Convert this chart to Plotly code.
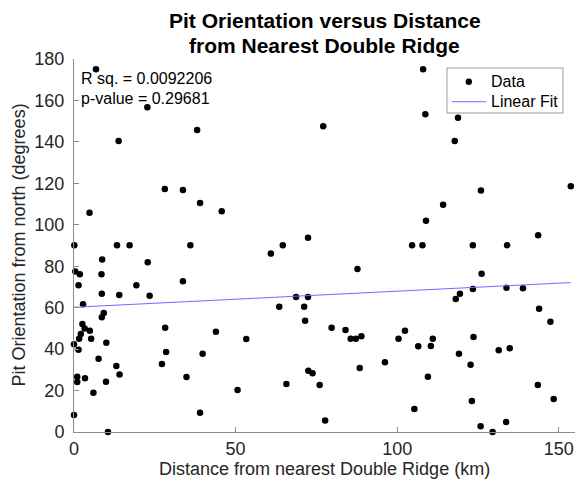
import numpy as np
import plotly.graph_objects as go

# Distance from nearest Double Ridge (km)
distance_km = [
    6.8, 22.7, 13.8, 28.1, 33.7, 4.8, 0.1, 13.3, 17.2, 36.0,
    8.7, 22.8, 0.4, 1.8, 8.5, 33.7, 1.4, 19.3, 8.6, 14.0,
    23.4, 2.8, 9.2, 8.6, 2.6, 3.3, 4.9, 2.1, 5.3, 1.6,
    28.2, 10.0, 0.0, 1.4, 28.5, 7.6, 27.2, 13.1, 14.1, 34.8,
    1.0, 3.4, 1.0, 9.9, 6.0, 0.0, 10.5, 38.1, 39.0, 45.7,
    60.9, 64.6, 72.4, 68.7, 72.4, 63.5, 71.2, 71.5, 43.9, 53.3,
    39.8, 72.5, 65.7, 50.6, 39.0, 108.0, 108.7, 77.1, 108.9, 104.6,
    107.8, 87.7, 79.7, 84.0, 85.6, 87.2, 88.9, 100.4, 102.4, 106.5,
    110.4, 111.0, 73.8, 88.4, 96.2, 76.0, 109.5, 105.3, 77.7, 118.8,
    117.8, 125.9, 114.2, 153.7, 123.4, 134.0, 143.6, 126.1, 119.4, 123.4,
    133.8, 138.9, 118.1, 143.9, 147.4, 123.6, 119.1, 131.4, 134.8, 122.7,
    143.5, 148.4, 123.1, 125.8, 133.7, 129.5,
]
# Pit orientation from north (degrees)
orientation_deg = [
    175.0, 156.7, 140.4, 117.3, 116.8, 105.8, 90.1, 90.1, 90.1, 90.1,
    83.3, 81.9, 77.4, 76.1, 76.1, 72.7, 70.8, 70.8, 66.7, 66.1,
    65.8, 61.6, 57.4, 55.4, 52.1, 50.0, 48.9, 47.3, 45.0, 45.0,
    50.3, 43.1, 42.3, 39.7, 38.6, 35.4, 32.8, 31.9, 27.7, 26.6,
    26.7, 25.9, 24.1, 24.3, 19.0, 8.2, 0.0, 145.7, 110.5, 106.5,
    86.1, 90.1, 93.8, 65.2, 65.2, 60.5, 60.5, 53.7, 48.4, 44.9,
    37.8, 29.6, 23.2, 20.3, 9.3, 175.0, 153.3, 147.5, 102.0, 90.1,
    90.1, 78.7, 50.3, 49.2, 45.0, 45.0, 46.2, 45.0, 48.9, 41.4,
    41.5, 45.0, 28.3, 30.9, 33.6, 22.7, 26.7, 11.1, 5.5, 151.7,
    140.4, 116.6, 109.7, 118.6, 90.1, 90.1, 94.9, 76.4, 66.7, 69.0,
    69.6, 69.4, 64.2, 59.5, 53.2, 45.9, 37.8, 39.4, 40.4, 32.5,
    22.7, 15.9, 15.0, 2.8, 4.8, 0.0,
]

# Linear fit coefficients
fit_intercept = 60.2
fit_slope = 0.0775

x_ticks = [0, 50, 100, 150]
y_ticks = [0, 20, 40, 60, 80, 100, 120, 140, 160, 180]

title_lines = ["Pit Orientation versus Distance", "from Nearest Double Ridge"]
stats_text = ["R sq. = 0.0092206", "p-value = 0.29681"]
series_names = ["Data", "Linear Fit"]
x_title = "Distance from nearest Double Ridge (km)"
y_title = "Pit Orientation from north (degrees)"

x = np.array(distance_km)
y = np.array(orientation_deg)
fit_x = np.array([x.min(), x.max()])
fit_y = fit_intercept + fit_slope * fit_x

FONT = "Liberation Sans, Arial, Helvetica, sans-serif"
AXIS_COLOR = "#8c8c8c"
TEXT_COLOR = "#262626"
FIT_COLOR = "rgb(110,110,255)"

fig = go.Figure()
fig.add_trace(go.Scatter(
    x=x, y=y, mode="markers", name=series_names[0], showlegend=False, cliponaxis=False,
    marker=dict(color="black", size=6.5, line=dict(width=0)),
))
fig.add_trace(go.Scatter(
    x=fit_x, y=fit_y, mode="lines", name=series_names[1], showlegend=False,
    line=dict(color=FIT_COLOR, width=1),
))

fig.update_layout(
    width=578, height=483,
    margin=dict(l=74, r=3, t=59, b=51, autoexpand=False),
    paper_bgcolor="white", plot_bgcolor="white",
    font=dict(family=FONT, size=16, color=TEXT_COLOR),
    showlegend=False,
    xaxis=dict(
        range=[0, 155], tickvals=x_ticks, ticks="inside", ticklen=5,
        tickcolor=AXIS_COLOR, showline=True, linecolor=AXIS_COLOR, linewidth=1,
        showgrid=False, zeroline=False, mirror=False, automargin=False,
        tickfont=dict(size=18, color=TEXT_COLOR),
    ),
    yaxis=dict(
        range=[0, 180], tickvals=y_ticks, ticks="inside", ticklen=5,
        tickcolor=AXIS_COLOR, showline=True, linecolor=AXIS_COLOR, linewidth=1,
        showgrid=False, zeroline=False, mirror=False, automargin=False,
        ticklabelstandoff=5,
        tickfont=dict(size=18, color=TEXT_COLOR),
    ),
)

# Axis titles
fig.add_annotation(
    xref="paper", yref="paper", x=0.5, y=0, yshift=-37, xanchor="center", yanchor="middle",
    text=x_title, showarrow=False, font=dict(size=18, color=TEXT_COLOR, family=FONT),
)
fig.add_annotation(
    xref="paper", yref="paper", x=0, y=0.5, xshift=-56, xanchor="center", yanchor="middle",
    text=y_title, textangle=-90, showarrow=False,
    font=dict(size=18, color=TEXT_COLOR, family=FONT),
)

# Title (two bold lines)
for i, (line, shift) in enumerate(zip(title_lines, [39, 13.5])):
    fig.add_annotation(
        xref="paper", yref="paper", x=0.5, y=1, yshift=shift, xanchor="center", yanchor="middle",
        text="<b>" + line + "</b>", showarrow=False,
        font=dict(size=21, color="black", family=FONT),
    )

# Stats text
for i, t in enumerate(stats_text):
    fig.add_annotation(
        xref="x", yref="y", x=0, y=180, xshift=5, yshift=-19 - 20 * i,
        xanchor="left", yanchor="middle", text=t, showarrow=False,
        font=dict(size=16, color="black", family=FONT),
    )

# Legend box (drawn in paper coordinates of the plot area)
leg_x0, leg_x1, leg_y0, leg_y1 = 0.7445, 0.976, 0.8552, 0.9759
row_y = [0.9391, 0.8855]
fig.add_shape(type="rect", xref="paper", yref="paper",
              x0=leg_x0, x1=leg_x1, y0=leg_y0, y1=leg_y1,
              line=dict(color="#999999", width=1), fillcolor="white", layer="above")
fig.add_shape(type="circle", xref="paper", yref="paper",
              xsizemode="pixel", ysizemode="pixel", xanchor=0.788, yanchor=row_y[0],
              x0=-3.2, x1=3.2, y0=-3.2, y1=3.2,
              line=dict(width=0), fillcolor="black", layer="above")
fig.add_shape(type="line", xref="paper", yref="paper",
              x0=0.7539, x1=0.8224, y0=row_y[1], y1=row_y[1],
              line=dict(color=FIT_COLOR, width=1), layer="above")
for name, ry in zip(series_names, row_y):
    fig.add_annotation(
        xref="paper", yref="paper", x=0.8283, y=ry, xanchor="left", yanchor="middle",
        text=name, showarrow=False, font=dict(size=16, color="black", family=FONT),
    )

# Remove the page's default body margin so the 578x483 figure fills the window
fig.write_html(
    "out.html",
    config={"displayModeBar": False},
    post_script="document.body.style.margin='0px';",
)
